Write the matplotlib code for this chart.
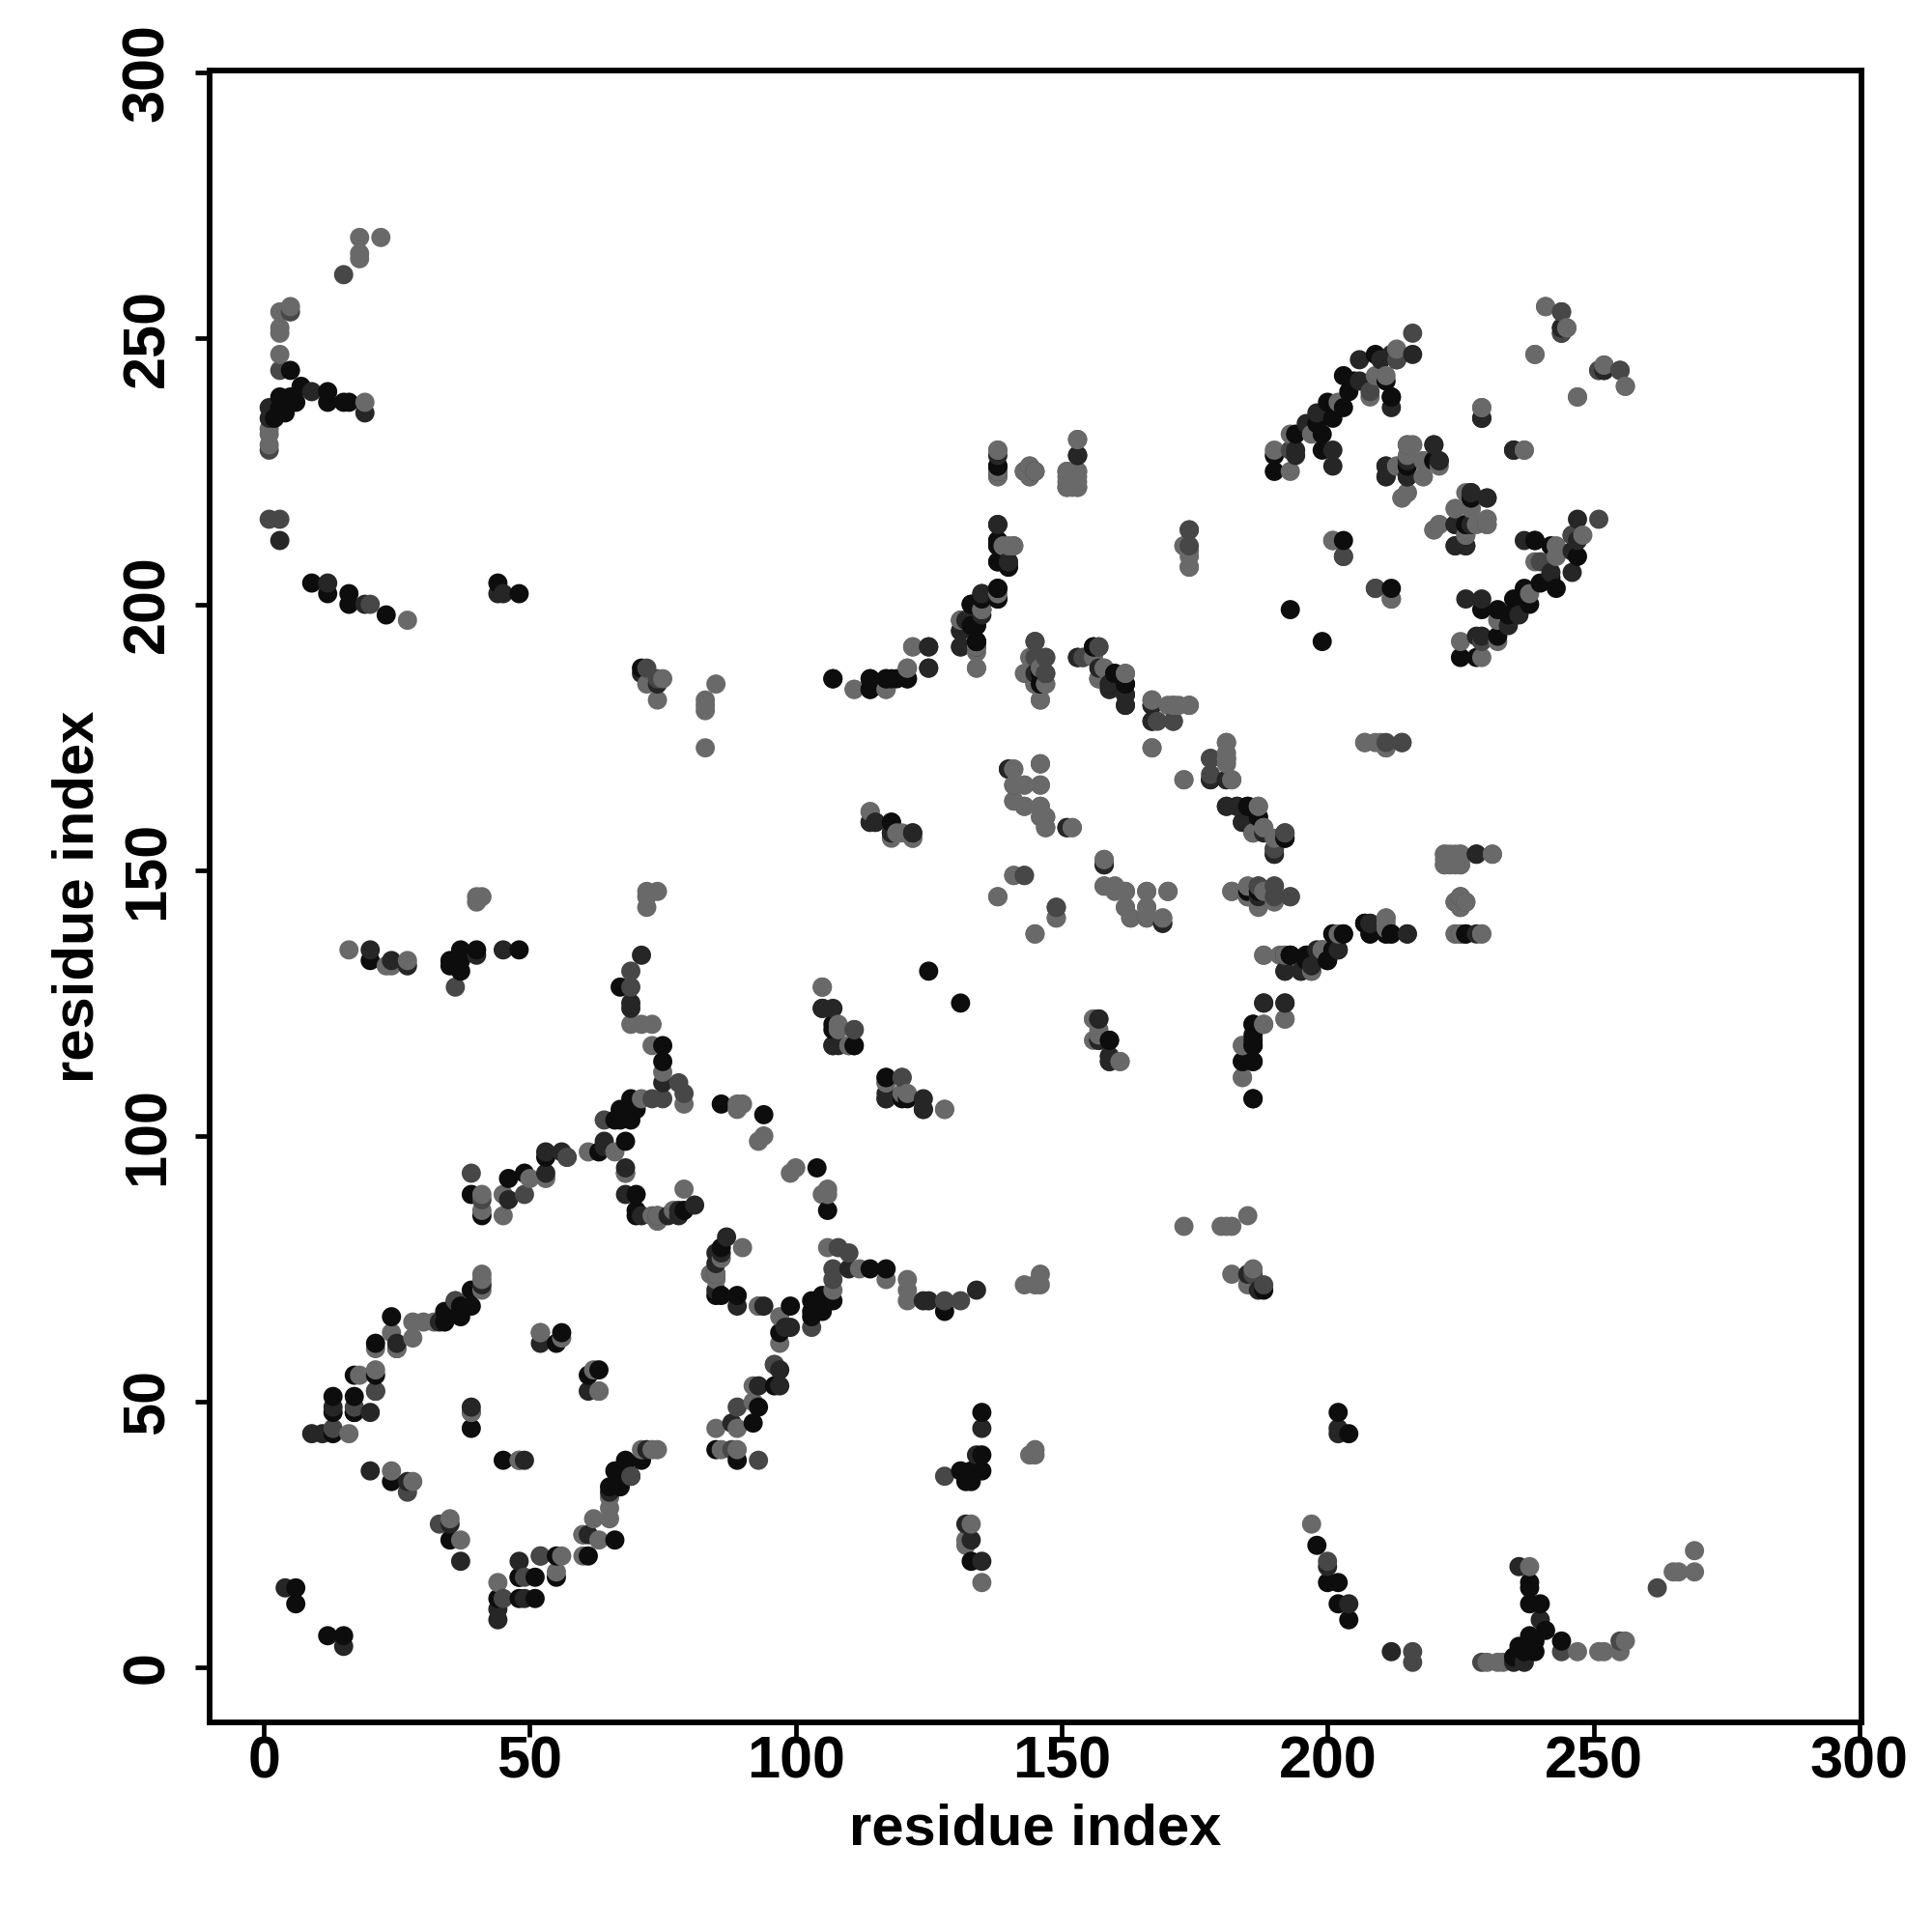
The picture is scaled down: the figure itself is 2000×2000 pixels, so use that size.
import matplotlib
matplotlib.use("Agg")
import matplotlib.pyplot as plt
import numpy as np
import pandas as pd

plt.rcParams["font.family"] = ["Liberation Sans", "DejaVu Sans"]
plt.rcParams["font.weight"] = "bold"

# contacts as (i, j) with i < j, the map is symmetric
black_contacts = [
    (6, 15), (6, 12), (13, 44), (13, 51), (13, 48), (17, 51), (17, 55), (21, 55), (17, 48), (21, 61),
    (24, 66), (24, 35), (34, 65), (34, 67), (36, 67), (36, 69), (37, 66), (37, 68), (39, 68), (39, 71),
    (39, 89), (39, 45), (41, 85), (46, 92), (49, 93), (53, 96), (55, 61), (56, 63), (48, 17),
    (70, 89), (70, 86), (70, 85), (79, 86), (67, 128), (75, 117), (75, 114), (69, 107), (70, 105),
    (67, 105), (67, 103), (69, 103), (66, 103), (63, 97), (68, 99), (86, 106), (94, 104),
    (20, 133), (35, 133), (35, 132), (37, 135), (37, 131), (37, 133), (40, 135), (48, 135),
    (5, 244), (7, 241), (12, 240), (12, 238), (15, 238), (16, 238), (3, 239), (6, 238), (4, 236),
    (2, 235), (3, 237), (5, 239), (9, 204), (12, 202), (16, 202), (16, 200), (23, 198), (44, 204),
    (48, 202), (71, 188), (138, 226), (138, 212), (138, 211), (138, 208), (139, 208), (140, 207),
    (138, 203), (138, 201), (133, 200), (131, 197), (134, 196), (135, 201), (134, 193), (121, 186),
    (118, 186), (117, 186), (114, 186), (114, 184), (107, 186), (146, 187), (146, 185), (156, 192),
    (160, 187), (162, 185), (181, 167), (185, 162), (187, 160), (185, 159), (192, 156), (190, 153),
    (185, 145), (193, 134), (186, 121), (186, 119), (186, 117), (184, 114), (186, 114), (186, 107),
    (125, 131), (118, 159), (118, 157), (105, 124), (107, 121), (111, 117), (117, 111), (120, 107),
    (159, 118), (203, 138), (201, 138), (202, 135), (200, 133), (196, 134), (193, 134), (196, 133),
    (208, 138), (207, 140), (211, 138), (212, 138), (215, 138), (226, 138), (190, 225), (190, 228),
    (194, 232), (199, 229), (198, 234), (199, 232), (200, 238), (201, 235), (203, 237), (204, 240),
    (203, 243), (205, 242), (209, 247), (211, 242), (212, 239), (213, 246), (215, 224), (215, 226),
    (220, 227), (227, 220), (226, 215), (193, 199), (203, 212), (229, 235), (244, 252), (239, 212),
    (228, 153),
]
dark_contacts = [
    (4, 15), (9, 44), (11, 44), (13, 49), (21, 52), (20, 48), (25, 61), (33, 65), (41, 72), (39, 49),
    (20, 37), (27, 35), (52, 61), (68, 89), (71, 85), (76, 85), (78, 85), (81, 87), (78, 86),
    (46, 88), (53, 93), (57, 96), (20, 135), (24, 133), (27, 132), (40, 134), (45, 135), (71, 134),
    (69, 125), (69, 124), (75, 110), (64, 99), (64, 98), (68, 94), (53, 97), (56, 97), (1, 237), (1, 235),
    (9, 240), (19, 236), (3, 212), (12, 204), (19, 200), (44, 202), (45, 202), (71, 187), (74, 185),
    (138, 215), (138, 228), (153, 228), (140, 208), (135, 202), (131, 195), (131, 192), (134, 192),
    (125, 192), (125, 188), (147, 187), (153, 190), (157, 188), (159, 185), (159, 184), (162, 183),
    (162, 181), (167, 181), (167, 178), (181, 162), (183, 162), (184, 159), (186, 157), (192, 157),
    (190, 154), (169, 140), (140, 169), (178, 167), (151, 158), (187, 145), (192, 131), (188, 125),
    (192, 125), (107, 124), (107, 117), (108, 117), (115, 159), (114, 159), (122, 157), (117, 107),
    (124, 105), (157, 122), (157, 118), (159, 115), (159, 114), (199, 135), (197, 132), (195, 131),
    (198, 135), (208, 140), (235, 229), (216, 247), (194, 229), (194, 228), (201, 229), (201, 226),
    (196, 234), (198, 236), (206, 242), (206, 246), (210, 246), (212, 247), (212, 237), (211, 226),
    (211, 224), (221, 227), (227, 221), (230, 220), (224, 215), (224, 211), (226, 211), (227, 215),
    (225, 143), (225, 145), (252, 244), (244, 251), (225, 138), (158, 151), (220, 230),
]
mid_contacts = [
    (13, 45), (17, 49), (21, 52), (25, 60), (36, 69), (39, 93), (39, 48), (41, 88), (49, 89), (57, 96),
    (52, 63), (27, 33), (68, 93), (64, 103), (69, 131), (69, 128), (79, 108), (78, 110), (73, 107),
    (85, 74), (84, 74), (3, 244), (1, 216), (20, 200), (15, 262), (5, 255), (72, 188), (74, 186),
    (85, 74), (36, 128), (75, 107), (144, 224), (145, 193), (147, 190), (157, 192), (154, 190),
    (174, 214), (174, 211), (168, 178), (171, 178), (146, 170), (141, 166), (178, 171), (187, 147),
    (190, 147), (149, 143), (143, 149), (193, 145), (120, 111), (111, 120), (158, 147), (214, 174),
    (213, 246), (216, 251), (208, 240), (251, 244), (255, 244), (193, 229), (244, 255), (203, 209),
    (212, 201), (190, 145), (226, 144), (230, 215), (209, 203), (3, 216), (1, 229),
]
light_contacts = [
    (16, 44), (18, 55), (21, 56), (21, 60), (24, 63), (25, 60), (28, 62), (28, 65), (30, 65), (32, 65),
    (41, 71), (41, 73), (41, 74), (24, 37), (28, 35), (41, 89), (41, 86), (45, 85), (45, 89), (50, 92),
    (53, 92), (52, 63), (56, 62), (73, 85), (74, 85), (79, 90), (77, 86), (74, 84), (39, 48), (90, 106),
    (93, 99), (94, 100), (89, 105), (89, 106), (16, 135), (23, 132), (24, 132), (27, 133), (40, 144),
    (40, 145), (41, 145), (72, 146), (74, 146), (72, 143), (72, 145), (69, 121), (71, 121), (73, 121),
    (73, 117), (75, 112), (79, 106), (71, 107), (61, 97), (66, 97), (68, 93), (18, 269), (22, 269),
    (18, 266), (18, 265), (3, 255), (5, 256), (3, 252), (3, 251), (3, 247), (19, 238), (1, 233), (1, 232),
    (1, 230), (27, 197), (72, 185), (75, 186), (74, 182), (85, 185), (83, 182), (83, 180), (83, 181),
    (83, 173), (138, 229), (138, 224), (138, 225), (144, 225), (143, 225), (145, 225), (144, 226),
    (153, 231), (151, 225), (153, 225), (151, 222), (151, 223), (153, 222), (152, 222), (153, 223),
    (140, 211), (141, 211), (173, 211), (174, 210), (174, 207), (135, 199), (134, 188), (122, 192),
    (121, 188), (117, 184), (111, 184), (144, 190), (143, 187), (145, 185), (147, 185), (146, 182),
    (158, 188), (157, 186), (162, 187), (167, 182), (171, 181), (172, 181), (174, 181), (167, 173),
    (141, 169), (143, 166), (146, 166), (141, 163), (143, 162), (146, 162), (147, 160), (146, 160),
    (147, 158), (152, 158), (181, 174), (181, 171), (181, 170), (182, 167), (173, 167), (187, 162),
    (188, 158), (190, 156), (158, 152), (160, 147), (162, 146), (162, 143), (163, 141), (166, 146),
    (166, 143), (166, 141), (169, 141), (170, 146), (182, 146), (185, 147), (188, 146), (187, 144),
    (141, 149), (138, 145), (149, 141), (145, 138), (188, 134), (191, 134), (192, 122), (188, 121),
    (184, 117), (184, 111), (114, 161), (119, 157), (122, 156), (120, 157), (105, 128), (108, 120),
    (110, 117), (117, 110), (121, 108), (128, 105), (156, 122), (156, 118), (161, 114), (207, 174),
    (209, 174), (211, 173), (222, 153), (222, 151), (224, 153), (224, 151), (225, 153), (225, 151),
    (223, 152), (231, 153), (224, 144), (224, 138), (229, 138), (211, 141), (211, 139), (202, 138),
    (199, 135), (192, 134), (197, 131), (241, 256), (245, 252), (239, 247), (252, 245), (256, 241),
    (247, 239), (229, 237), (237, 229), (201, 212), (193, 225), (190, 229), (193, 232), (197, 232),
    (202, 238), (208, 239), (209, 243), (211, 243), (213, 248), (215, 230), (216, 230), (215, 228),
    (218, 227), (218, 224), (214, 220), (215, 221), (226, 221), (227, 218), (224, 218), (220, 214),
    (221, 215), (226, 213), (230, 216), (213, 226),
]
gray_levels = {"black": 0.05, "dark": 0.15, "mid": 0.28, "light": 0.41}

xticks = [0, 50, 100, 150, 200, 250, 300]
yticks = [0, 50, 100, 150, 200, 250, 300]

rows = []
groups = [("black", black_contacts), ("dark", dark_contacts), ("mid", mid_contacts), ("light", light_contacts)]
for name, contacts in groups:
    for i, j in contacts:
        rows.append((i, j, gray_levels[name]))
        rows.append((j, i, gray_levels[name]))
df = pd.DataFrame(rows, columns=["x", "y", "gray"]).sort_values(["x", "y"], kind="stable")

fig = plt.figure(figsize=(20, 20), dpi=100)
ax = fig.add_axes([0.1085, 0.1085, 0.855, 0.855])
ax.scatter(df["x"], df["y"], c=[str(g) for g in df["gray"]], s=205, linewidths=0, zorder=3)
ax.set_xlim(-10.2, 300.4)
ax.set_ylim(-10.3, 300.4)
ax.set_xticks(xticks)
ax.set_yticks(yticks)
ax.tick_params(length=11, width=3.4, labelsize=44)
ax.tick_params(axis="x", pad=-1)
ax.tick_params(axis="y", pad=14)
for label in ax.get_yticklabels():
    label.set_rotation(90)
    label.set_va("center")
for side in ax.spines.values():
    side.set_linewidth(4.2)
ax.set_xlabel("residue index", fontsize=43, fontweight="bold")
ax.set_ylabel("residue index", fontsize=43, fontweight="bold")
ax.xaxis.set_label_coords(0.5, -0.049)
ax.yaxis.set_label_coords(-0.0636, 0.5)

fig.savefig("out.png", dpi=100)
